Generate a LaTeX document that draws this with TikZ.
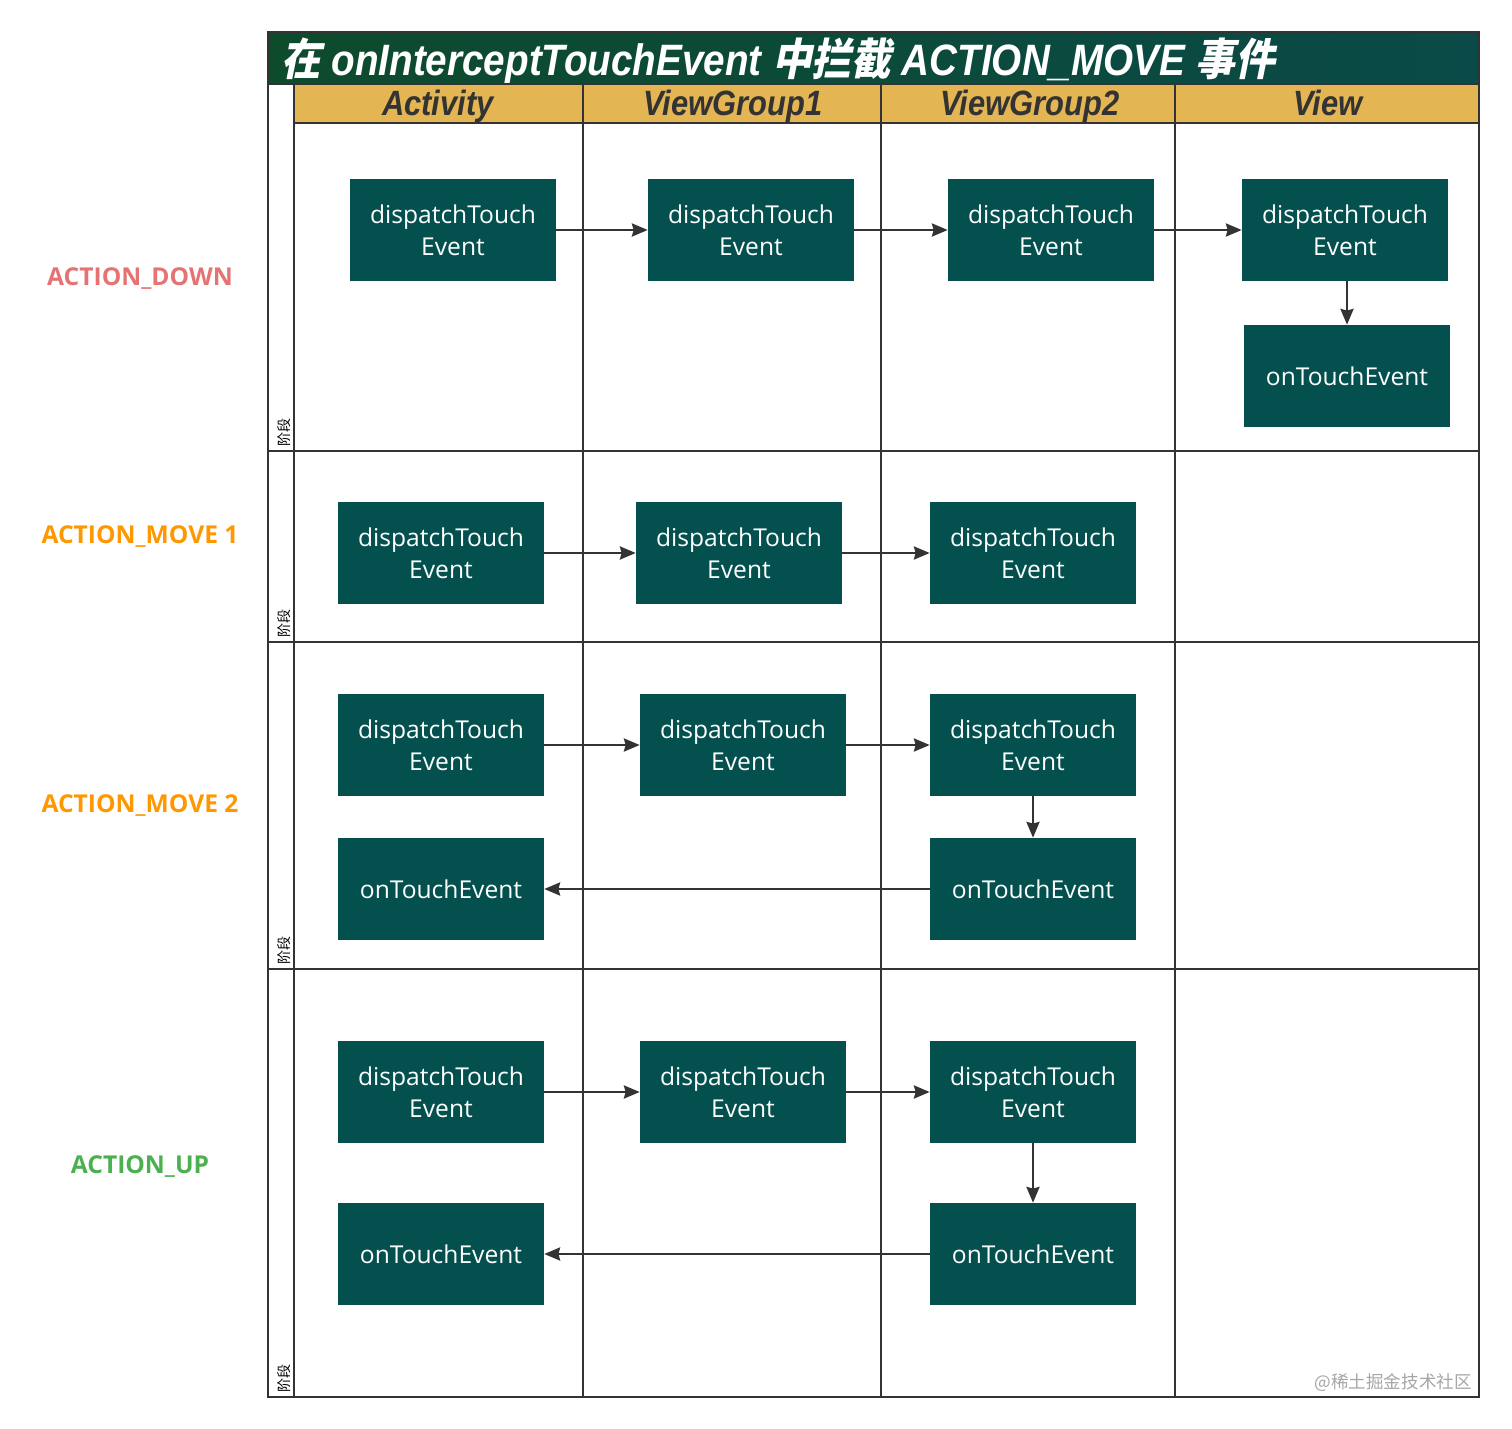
\documentclass[tikz,border=0pt]{standalone}
\usepackage{fontspec}
\usetikzlibrary{arrows.meta}
\newfontfamily\boxfont{Open Sans}
\newfontfamily\titlefont[FakeStretch=0.88]{Liberation Sans}
\newfontfamily\cjk{Noto Sans CJK SC}
\newfontfamily\cjkslant[FakeSlant=0.2, FakeStretch=0.9]{Noto Sans CJK SC}
\definecolor{evteal}{HTML}{03504F}
\definecolor{gridgray}{HTML}{333333}
\definecolor{headgold}{HTML}{E3B553}
\definecolor{titlegreen}{HTML}{0E4A2C}
\definecolor{titleteal}{HTML}{0A4A48}
\definecolor{downred}{HTML}{E57373}
\definecolor{moveorange}{HTML}{FF9800}
\definecolor{upgreen}{HTML}{4CAF50}
\tikzset{
  evbox/.style={fill=evteal, text=white, minimum width=4.12cm, minimum height=2.04cm,
    align=center, font=\boxfont\fontsize{14}{18}\selectfont, inner sep=0pt},
  flow/.style={-{Stealth[length=9pt, width=7.5pt, inset=1pt]}, line width=1.1pt, gridgray},
  grid/.style={line width=1.1pt, gridgray},
  phase/.style={font=\boxfont\bfseries\fontsize{14}{16}\selectfont},
  headtext/.style={anchor=base, text=gridgray, font=\titlefont\bfseries\itshape\fontsize{20}{22}\selectfont},
  stagetag/.style={rotate=90, anchor=west, inner sep=0pt, font=\cjk\fontsize{8}{9}\selectfont}
}
\begin{document}
\begin{tikzpicture}[x=0.02cm, y=-0.02cm]
    \useasboundingbox (0,0) rectangle (1512,1429);

    % Title band and header
    \shade[left color=titlegreen, right color=titleteal] (268,32) rectangle (1479,84);
    \fill[headgold] (294,84) rectangle (1479,123);
    \node[anchor=west, text=white, font=\titlefont\bfseries\itshape\fontsize{25}{26}\selectfont] (title) at (275,61)
      {{\cjkslant\bfseries 在} onInterceptTouchEvent {\cjkslant\bfseries 中拦截} ACTION\_MOVE {\cjkslant\bfseries 事件}};
    \node[headtext] (hact) at (438,116) {Activity};
    \node[headtext] (hvg1) at (733,116) {ViewGroup1};
    \node[headtext] (hvg2) at (1030,116) {ViewGroup2};
    \node[headtext] (hview) at (1328,116) {View};

    % Swimlane grid
    \draw[grid] (268,84) -- (1479,84);
    \draw[grid] (294,123) -- (1479,123);
    \draw[grid] (294,84) -- (294,1397);
    \foreach \xx in {583,881,1175}
        \draw[grid] (\xx,84) -- (\xx,1397);
    \foreach \yy in {451,642,969}
        \draw[grid] (268,\yy) -- (1479,\yy);
    \draw[line width=1.4pt, gridgray] (268,32) rectangle (1479,1397);

    % Stage tags in the left strip
    \foreach \yy in {447,638,965,1393}
        \node[stagetag] at (284,\yy) {阶段};

    % Phase labels
    \node[phase, text=downred] (down) at (140,279) {ACTION\_DOWN};
    \node[phase, text=moveorange] (moveA) at (140,537) {ACTION\_MOVE 1};
    \node[phase, text=moveorange] (moveB) at (140,806) {ACTION\_MOVE 2};
    \node[phase, text=upgreen] (up) at (140,1167) {ACTION\_UP};

    % ACTION_DOWN
    \node[evbox] (da1) at (453,230) {dispatchTouch\\Event};
    \node[evbox] (da2) at (751,230) {dispatchTouch\\Event};
    \node[evbox] (da3) at (1051,230) {dispatchTouch\\Event};
    \node[evbox] (da4) at (1345,230) {dispatchTouch\\Event};
    \node[evbox] (ta4) at (1347,376) {onTouchEvent};
    \draw[flow] (da1) -- (da2);
    \draw[flow] (da2) -- (da3);
    \draw[flow] (da3) -- (da4);
    \draw[flow] (da4.south -| ta4.north) -- (ta4.north);

    % ACTION_MOVE 1
    \node[evbox] (db1) at (441,553) {dispatchTouch\\Event};
    \node[evbox] (db2) at (739,553) {dispatchTouch\\Event};
    \node[evbox] (db3) at (1033,553) {dispatchTouch\\Event};
    \draw[flow] (db1) -- (db2);
    \draw[flow] (db2) -- (db3);

    % ACTION_MOVE 2
    \node[evbox] (dc1) at (441,745) {dispatchTouch\\Event};
    \node[evbox] (dc2) at (743,745) {dispatchTouch\\Event};
    \node[evbox] (dc3) at (1033,745) {dispatchTouch\\Event};
    \node[evbox] (tc1) at (441,889) {onTouchEvent};
    \node[evbox] (tc3) at (1033,889) {onTouchEvent};
    \draw[flow] (dc1) -- (dc2);
    \draw[flow] (dc2) -- (dc3);
    \draw[flow] (dc3) -- (tc3);
    \draw[flow] (tc3) -- (tc1);

    % ACTION_UP
    \node[evbox] (dd1) at (441,1092) {dispatchTouch\\Event};
    \node[evbox] (dd2) at (743,1092) {dispatchTouch\\Event};
    \node[evbox] (dd3) at (1033,1092) {dispatchTouch\\Event};
    \node[evbox] (td1) at (441,1254) {onTouchEvent};
    \node[evbox] (td3) at (1033,1254) {onTouchEvent};
    \draw[flow] (dd1) -- (dd2);
    \draw[flow] (dd2) -- (dd3);
    \draw[flow] (dd3) -- (td3);
    \draw[flow] (td3) -- (td1);

    % Watermark
    \node[anchor=east, text=gray!70, font=\cjk\fontsize{10}{12}\selectfont] (mark) at (1478,1383) {@稀土掘金技术社区};
\end{tikzpicture}
\end{document}
